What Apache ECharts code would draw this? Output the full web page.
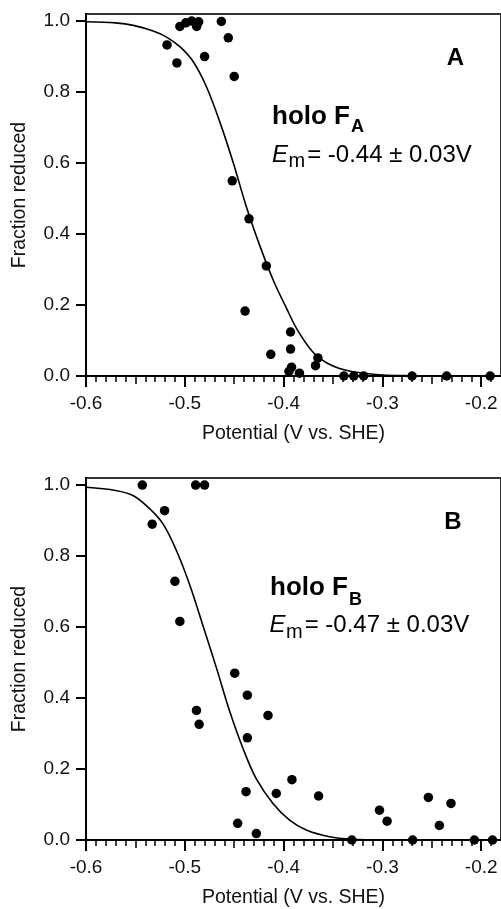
<!DOCTYPE html>
<html><head><meta charset="utf-8">
<script src="https://cdn.jsdelivr.net/npm/echarts@6.0.0/dist/echarts.min.js"></script>
<style>html,body{margin:0;padding:0;background:#fff}#c{width:501px;height:909px}</style>
</head><body><div id="c"></div>
<script>
// ---- data ----
const xTicks = [-0.6, -0.5, -0.4, -0.3, -0.2];
const yTicks = [0.0, 0.2, 0.4, 0.6, 0.8, 1.0];

const pointsA = [
  [-0.518,0.933],[-0.508,0.882],[-0.505,0.985],[-0.499,0.995],[-0.493,1.0],[-0.488,0.985],
  [-0.486,0.998],[-0.480,0.900],[-0.463,0.999],[-0.456,0.953],[-0.450,0.844],[-0.452,0.550],
  [-0.435,0.443],[-0.4175,0.310],[-0.439,0.183],[-0.393,0.124],[-0.393,0.076],[-0.413,0.061],
  [-0.392,0.025],[-0.3946,0.013],[-0.384,0.008],[-0.3653,0.051],[-0.3677,0.029],[-0.339,0.0],
  [-0.329,0.0],[-0.319,0.0],[-0.270,0.0],[-0.235,0.0],[-0.191,0.0]
];
const curveA = [
  [-0.600,0.998],[-0.570,0.995],[-0.552,0.988],[-0.532,0.972],[-0.5185,0.955],[-0.505,0.928],
  [-0.4916,0.886],[-0.4781,0.815],[-0.4646,0.716],[-0.4512,0.603],[-0.4377,0.477],[-0.4242,0.368],
  [-0.4108,0.272],[-0.3973,0.192],[-0.385,0.125],[-0.367,0.058],[-0.3434,0.021],[-0.3098,0.005],
  [-0.2761,0.001],[-0.180,0.0]
];
const pointsB = [
  [-0.543,1.0],[-0.489,1.0],[-0.480,1.0],[-0.533,0.890],[-0.5205,0.928],[-0.510,0.729],
  [-0.505,0.616],[-0.4495,0.470],[-0.4882,0.365],[-0.4855,0.326],[-0.4367,0.408],[-0.4367,0.288],
  [-0.4158,0.351],[-0.438,0.136],[-0.4465,0.047],[-0.4276,0.018],[-0.4074,0.131],[-0.3916,0.170],
  [-0.3646,0.124],[-0.331,0.0],[-0.303,0.084],[-0.2953,0.053],[-0.2694,0.0],[-0.2535,0.120],
  [-0.2424,0.041],[-0.2306,0.103],[-0.207,0.0],[-0.1886,0.0]
];
const curveB = [
  [-0.600,0.994],[-0.570,0.985],[-0.552,0.970],[-0.5354,0.933],[-0.5219,0.890],[-0.5084,0.815],
  [-0.4949,0.718],[-0.4815,0.603],[-0.468,0.485],[-0.4545,0.362],[-0.4411,0.258],[-0.4276,0.172],
  [-0.4108,0.103],[-0.3939,0.056],[-0.3771,0.028],[-0.3535,0.009],[-0.331,0.002],[-0.300,0.0],
  [-0.180,0.0]
];
const titleX = 'Potential (V vs. SHE)';
const titleY = 'Fraction reduced';
const panelLetters = ['A', 'B'];
const speciesSub = ['A', 'B'];
const emValues = ['= -0.44 \u00b1 0.03V', '= -0.47 \u00b1 0.03V'];

// ---- layout ----
const FONT = "'Liberation Sans', Arial, Helvetica, sans-serif";
const XMIN = -0.6, XMAX = -0.18, YMIN = 0, YMAX = 1.02;
const grids = [
  {left: 86, top: 14, width: 416, height: 362},
  {left: 86, top: 478, width: 416, height: 362}
];
const r2 = v => Math.round(v * 100) / 100;
const minorVals = [], midVals = [];
for (let i = 0; i <= 41; i++) {
  const v = r2(-0.6 + i * 0.01);
  if (i % 10 === 0) continue;
  if (i % 5 === 0) midVals.push(v); else minorVals.push(v);
}

const xAxes = [], yAxes = [], series = [];
grids.forEach((g, gi) => {
  xAxes.push({
    gridIndex: gi, type: 'value', min: XMIN, max: XMAX, position: 'bottom',
    name: titleX, nameLocation: 'middle', nameGap: 48,
    nameTextStyle: {fontFamily: FONT, fontSize: 19.5, color: '#111'},
    axisLine: {show: true, onZero: false, lineStyle: {color: '#000', width: 2}},
    axisTick: {show: true, customValues: xTicks, length: 11, lineStyle: {color: '#000', width: 2}},
    axisLabel: {show: true, customValues: xTicks, margin: 18, fontFamily: FONT, fontSize: 19, color: '#111',
      formatter: v => v.toFixed(1)},
    splitLine: {show: false}
  });
  xAxes.push({
    gridIndex: gi, type: 'value', min: XMIN, max: XMAX, position: 'bottom', offset: 0,
    axisLine: {show: false}, axisLabel: {show: false}, splitLine: {show: false},
    axisTick: {show: true, customValues: minorVals, length: 6, lineStyle: {color: '#000', width: 1.5}}
  });
  xAxes.push({
    gridIndex: gi, type: 'value', min: XMIN, max: XMAX, position: 'bottom', offset: 0,
    axisLine: {show: false}, axisLabel: {show: false}, splitLine: {show: false},
    axisTick: {show: true, customValues: midVals, length: 8, lineStyle: {color: '#000', width: 1.5}}
  });
  yAxes.push({
    gridIndex: gi, type: 'value', min: YMIN, max: YMAX, position: 'left',
    name: titleY, nameLocation: 'middle', nameGap: 56,
    nameTextStyle: {fontFamily: FONT, fontSize: 19.5, color: '#111'},
    axisLine: {show: true, onZero: false, lineStyle: {color: '#000', width: 2}},
    axisTick: {show: true, customValues: yTicks, length: 10, lineStyle: {color: '#000', width: 2}},
    axisLabel: {show: true, customValues: yTicks, margin: 16, fontFamily: FONT, fontSize: 19, color: '#111',
      formatter: v => v.toFixed(1)},
    splitLine: {show: false}
  });
});
const curves = [curveA, curveB], pts = [pointsA, pointsB];
[0, 1].forEach(gi => {
  series.push({type: 'line', xAxisIndex: gi * 3, yAxisIndex: gi, data: curves[gi], smooth: 0.35,
    showSymbol: false, lineStyle: {color: '#000', width: 1.6}, z: 2});
  series.push({type: 'scatter', xAxisIndex: gi * 3, yAxisIndex: gi, data: pts[gi], symbol: 'circle',
    symbolSize: 9.5, itemStyle: {color: '#000', opacity: 1}, z: 3});
});

// ---- annotations ----
const ctx = document.createElement('canvas').getContext('2d');
function tw(font, text) { ctx.font = font; return ctx.measureText(text).width; }
const ann = [
  {letter: [455.5, 58.5], holo: [272, 117], sub: 126.7, em: [272, 155], m: 161.5},
  {letter: [453, 522.5], holo: [270, 587.5], sub: 600, em: [269.5, 625.5], m: 632}
];
const graphic = [];
ann.forEach((a, i) => {
  const fL = 'bold 24px ' + FONT, fH = 'bold 26px ' + FONT, fS = 'bold 18px ' + FONT;
  const fE = 'italic 24px ' + FONT, fM = '20px ' + FONT, fR = '24px ' + FONT;
  const T = (x, y, text, font, align) => ({type: 'text', x: x, y: y, silent: true,
    style: {text: text, font: font, fill: '#000', align: align || 'left', verticalAlign: 'middle'}});
  graphic.push(T(a.letter[0], a.letter[1], panelLetters[i], fL, 'center'));
  graphic.push(T(a.holo[0], a.holo[1], 'holo F', fH));
  graphic.push(T(a.holo[0] + tw(fH, 'holo F') + 1, a.sub, speciesSub[i], fS));
  graphic.push(T(a.em[0], a.em[1], 'E', fE));
  const mx = a.em[0] + tw(fE, 'E') + 0.5;
  graphic.push(T(mx, a.m, 'm', fM));
  graphic.push(T(mx + tw(fM, 'm') + 2, a.em[1], emValues[i], fR));
});

const chart = echarts.init(document.getElementById('c'), null, {renderer: 'canvas'});
chart.setOption({
  animation: false,
  backgroundColor: '#fff',
  grid: grids.map(g => Object.assign({show: true, borderColor: '#333', borderWidth: 2, backgroundColor: 'transparent'}, g)),
  xAxis: xAxes,
  yAxis: yAxes,
  series: series,
  graphic: graphic
});
</script></body></html>
